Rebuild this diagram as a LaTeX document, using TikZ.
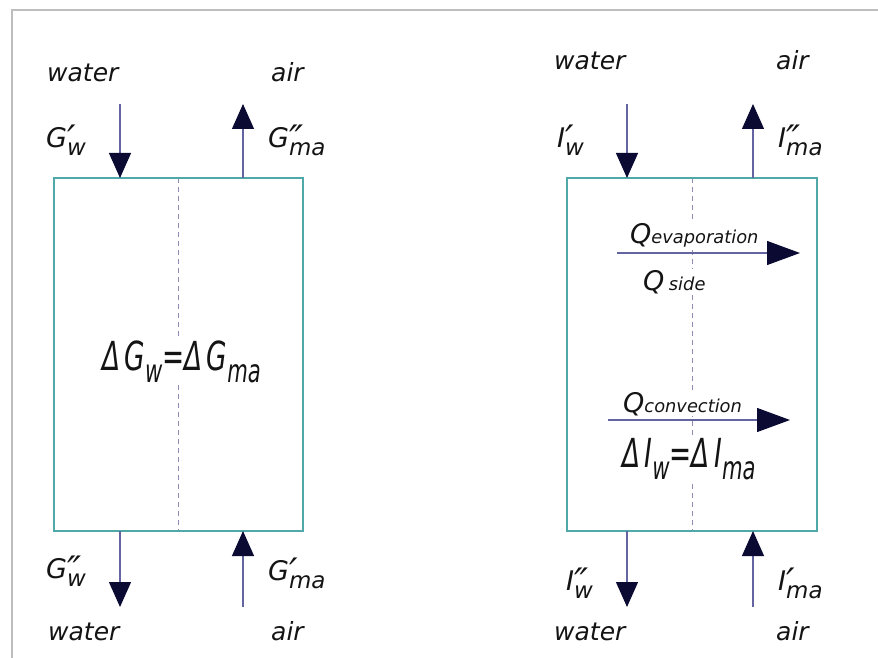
\documentclass[tikz,border=0pt]{standalone}
\usepackage{fontspec}
\setmainfont{DejaVu Sans}
\usetikzlibrary{arrows.meta}
\definecolor{boxc}{RGB}{80,168,168}
\definecolor{shaftc}{RGB}{100,100,160}
\definecolor{headc}{RGB}{10,10,50}
\definecolor{dashc}{RGB}{140,140,180}
\definecolor{framec}{RGB}{190,190,190}
\definecolor{txtc}{RGB}{20,20,20}
\newcommand\psub[3]{#1\makebox[0pt][l]{\raisebox{-0.22em}{\scalebox{1.4}{#2}}}\raisebox{-0.32em}{\scalebox{0.85}{#3}}}
\tikzset{
  flow/.style={draw=shaftc, line width=1.2pt, -{Triangle[length=25pt,width=22pt,color=headc]}},
  heat/.style={draw=shaftc, line width=1.2pt, -{Triangle[length=33pt,width=24pt,color=headc]}},
  word/.style={anchor=base west, inner sep=0pt, text=txtc, font=\fontsize{25}{28}\selectfont\itshape},
  sym/.style={anchor=base west, inner sep=0pt, text=txtc, font=\fontsize{27}{30}\selectfont\itshape},
  qsym/.style={anchor=base west, inner sep=1pt, fill=white, text=txtc, font=\fontsize{27}{30}\selectfont\itshape},
  big/.style={anchor=base west, inner sep=2pt, fill=white, text=txtc, font=\fontsize{40}{44}\selectfont\itshape},
  vessel/.style={draw=boxc, line width=1.4pt},
  mid/.style={draw=dashc, line width=0.9pt, dash pattern=on 5pt off 4pt},
}
\begin{document}
\begin{tikzpicture}[x=1pt,y=-1pt]
\useasboundingbox (0,0) rectangle (878,658);
% frame
\draw[framec, line width=1.2pt] (878,10) -- (12,10) -- (12,658);

% ---------- left vessel ----------
\coordinate (L1) at (54,178);
\coordinate (L2) at (303,531);
\draw[mid] (178,178) -- (178,531);
\draw[vessel] (L1) rectangle (L2);
\coordinate (LwiS) at (120,104);
\coordinate (LwiE) at (120,178);
\coordinate (LaoS) at (243,178);
\coordinate (LaoE) at (243,104);
\coordinate (LwoS) at (120,531);
\coordinate (LwoE) at (120,607);
\coordinate (LaiS) at (243,607);
\coordinate (LaiE) at (243,531);
\draw[flow] (LwiS) -- (LwiE);
\draw[flow] (LaoS) -- (LaoE);
\draw[flow] (LwoS) -- (LwoE);
\draw[flow] (LaiS) -- (LaiE);

\node[word] (lwt) at (47,82) {water};
\node[word] (lat) at (271,82) {air};
\node[word] (lwb) at (48,640) {water};
\node[word] (lab) at (271,640) {air};
\node[sym] (lg1) at (46,147) {\psub{G}{′}{w}};
\node[sym] (lg2) at (268,147) {\psub{G}{″}{ma}};
\node[sym] (lg3) at (46,578) {\psub{G}{″}{w}};
\node[sym] (lg4) at (268,580) {\psub{G}{′}{ma}};
\node[big] (ldg) at (100,370) {\scalebox{0.66}[1]{Δ\,G\raisebox{-0.3em}{\scalebox{0.8}{w}}=Δ\,G\raisebox{-0.3em}{\scalebox{0.8}{ma}}}};

% ---------- right vessel ----------
\coordinate (R1) at (567,178);
\coordinate (R2) at (817,531);
\draw[mid] (692,178) -- (692,531);
\draw[vessel] (R1) rectangle (R2);
\coordinate (RwiS) at (627,104);
\coordinate (RwiE) at (627,178);
\coordinate (RaoS) at (753,178);
\coordinate (RaoE) at (753,104);
\coordinate (RwoS) at (627,531);
\coordinate (RwoE) at (627,607);
\coordinate (RaiS) at (753,607);
\coordinate (RaiE) at (753,531);
\draw[flow] (RwiS) -- (RwiE);
\draw[flow] (RaoS) -- (RaoE);
\draw[flow] (RwoS) -- (RwoE);
\draw[flow] (RaiS) -- (RaiE);

\node[word] (rwt) at (554,70) {water};
\node[word] (rat) at (776,70) {air};
\node[word] (rwb) at (554,640) {water};
\node[word] (rab) at (776,640) {air};
\node[sym] (ri1) at (557,147) {\psub{I}{′}{w}};
\node[sym] (ri2) at (778,147) {\psub{I}{″}{ma}};
\node[sym] (ri3) at (566,590) {\psub{I}{″}{w}};
\node[sym] (ri4) at (778,590) {\psub{I}{′}{ma}};

\node[qsym] (qev) at (629,243) {Q\scalebox{0.66}{evaporation}};
\node[qsym] (qsd) at (642,290) {Q\,\scalebox{0.66}{side}};
\coordinate (QeS) at (617,253);
\coordinate (QeE) at (800,253);
\draw[heat] (QeS) -- (QeE);

\node[qsym] (qcv) at (622,412) {Q\scalebox{0.66}{convection}};
\node[big] (rdi) at (620,467) {\scalebox{0.66}[1]{Δ\,I\raisebox{-0.3em}{\scalebox{0.8}{w}}=Δ\,I\raisebox{-0.3em}{\scalebox{0.8}{ma}}}};
\coordinate (QcS) at (608,420);
\coordinate (QcE) at (790,420);
\draw[heat] (QcS) -- (QcE);
\end{tikzpicture}
\end{document}
